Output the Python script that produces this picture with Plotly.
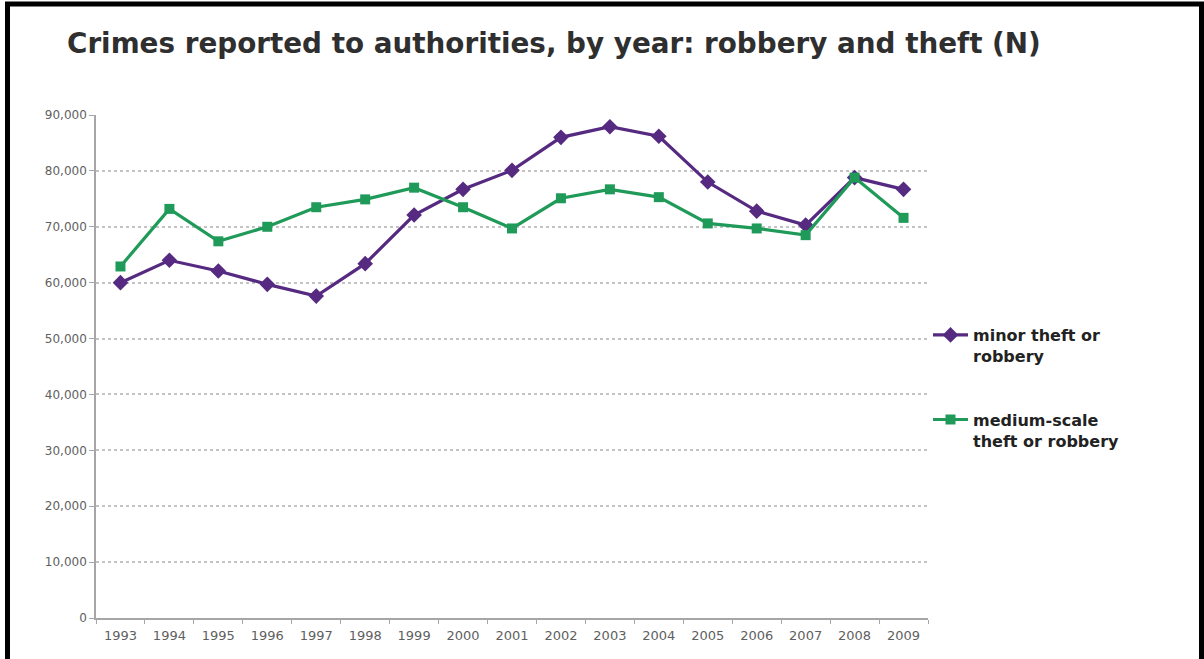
import plotly.graph_objects as go

years = [str(y) for y in range(1993, 2010)]
minor_theft = [60000, 64000, 62100, 59700, 57600, 63400, 72100, 76700, 80100,
               86000, 87900, 86200, 78000, 72800, 70300, 78800, 76700]
medium_theft = [62900, 73200, 67400, 70000, 73500, 74900, 77000, 73500, 69700,
                75100, 76700, 75300, 70600, 69700, 68500, 78800, 71600]
y_ticks = list(range(0, 90001, 10000))

W, H = 1204, 659
L, R, T, B = 96, 276, 115, 41
pw, ph = W - L - R, H - T - B


def px(x):
    return (x - L) / pw


def py(y):
    return (H - B - y) / ph


fig = go.Figure()
fig.add_trace(go.Scatter(
    x=years, y=minor_theft, name="minor theft or<br>robbery",
    mode="lines+markers", legendgroup="a",
    line=dict(color="#552a80", width=3.2),
    marker=dict(symbol="diamond", size=12, color="#552a80"),
))
fig.add_trace(go.Scatter(
    x=years, y=medium_theft, name="medium-scale<br>theft or robbery",
    mode="lines+markers", legendgroup="b",
    line=dict(color="#1f9a58", width=3.2),
    marker=dict(symbol="square", size=10, color="#1f9a58"),
))

fig.update_layout(
    width=W, height=H,
    margin=dict(l=L, r=R, t=T, b=B),
    paper_bgcolor="white", plot_bgcolor="white",
    title=dict(
        text="<b>Crimes reported to authorities, by year: robbery and theft (N)</b>",
        xref="container", yref="container",
        x=67 / W, xanchor="left", y=1 - 43 / H, yanchor="middle",
        font=dict(family="DejaVu Sans", size=27.8, color="#2f2f2f"),
    ),
    xaxis=dict(
        type="category", range=[-0.5, 16.5],
        showline=True, linecolor="#a6a6a6", linewidth=1.5,
        ticks="outside", tickson="boundaries", ticklen=4, tickcolor="#a6a6a6",
        showgrid=False, ticklabelstandoff=5,
        tickfont=dict(family="DejaVu Sans", size=13, color="#5f5f5f"),
    ),
    yaxis=dict(
        range=[0, 90000], tickvals=y_ticks,
        tickformat=",d",
        showline=True, linecolor="#a6a6a6", linewidth=1.5,
        ticks="outside", ticklen=5, tickcolor="#a6a6a6",
        showgrid=True, gridcolor="#c4c4c4", griddash="dot", gridwidth=2,
        zeroline=False,
        tickfont=dict(family="DejaVu Sans", size=12, color="#5f5f5f"),
    ),
    legend=dict(
        x=px(928), y=py(318), xanchor="left", yanchor="top",
        traceorder="grouped", tracegroupgap=40, valign="top",
        font=dict(family="DejaVu Sans", size=16, color="#222222", weight="bold"),
        bgcolor="rgba(0,0,0,0)", itemwidth=35,
    ),
    shapes=[dict(
        type="rect", xref="paper", yref="paper",
        x0=px(7.5), x1=px(1201.5), y0=py(680), y1=py(4),
        line=dict(color="black", width=5), fillcolor="rgba(0,0,0,0)",
        layer="above",
    )],
)

fig.write_html("out.html")
